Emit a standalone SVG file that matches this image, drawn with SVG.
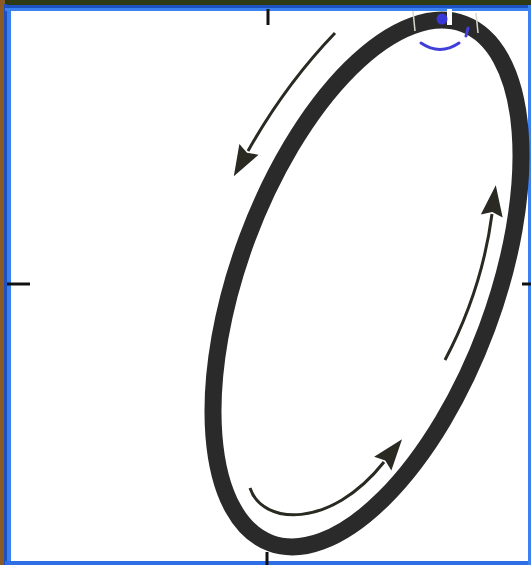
<svg xmlns="http://www.w3.org/2000/svg" width="531" height="565" viewBox="0 0 531 565">
<style>
.tick{stroke:#111;stroke-width:3;fill:none}
.arr{stroke:#2a2a22;stroke-width:3;fill:none;marker-end:url(#head)}
.blue{stroke:#4040d8;stroke-width:3;fill:none;stroke-linecap:round}
.sep{stroke:#d8d8cc;stroke-width:1.5}
</style>
<defs>
<marker id="head" markerUnits="userSpaceOnUse" markerWidth="34" markerHeight="26" viewBox="-2 -13 34 26" refX="2" refY="0" orient="auto">
<path d="M0,-11 L31,0 L0,11 L4,0 Z" fill="#2a2a22"/>
</marker>
</defs>
<rect x="0" y="0" width="531" height="565" fill="#ffffff"/>
<g id="frame">
<rect x="0" y="0" width="531" height="5" fill="#2e3a14"/>
<rect x="0" y="0" width="5" height="565" fill="#8b5a26"/>
<rect x="4" y="4" width="3" height="561" fill="#1e50c0"/>
<rect x="7" y="5" width="4" height="560" fill="#3a82f0"/>
<rect x="5" y="5" width="526" height="3" fill="#1e50c0"/>
<rect x="5" y="8" width="526" height="3" fill="#3a82f0"/>
<rect x="5" y="561" width="526" height="4" fill="#2f6fe6"/>
<rect x="528" y="5" width="3" height="560" fill="#3a82f0"/>
</g>
<g id="ticks">
<line class="tick" x1="268" y1="9" x2="268" y2="25"/>
<line class="tick" x1="7" y1="284" x2="30" y2="284"/>
<line class="tick" x1="522" y1="284" x2="531" y2="284"/>
<line class="tick" x1="267" y1="552" x2="267" y2="565"/>
</g>
<g id="ring">
<ellipse cx="367" cy="283.5" rx="128" ry="277" transform="rotate(20.4 367 283.5)" fill="none" stroke="#2b2a2a" stroke-width="17"/>
<line class="sep" x1="413" y1="11" x2="415" y2="31"/>
<line class="sep" x1="476" y1="13" x2="478" y2="33"/>
<rect x="447" y="9" width="5" height="16" fill="#ffffff"/>
</g>
<g id="marks">
<circle cx="442" cy="19" r="5.5" fill="#3838d8"/>
<path class="blue" d="M421,43 Q440,56 459,43"/>
<line class="blue" x1="468" y1="28" x2="466" y2="36"/>
</g>
<g id="connectors">
<path class="arr" d="M335,33 Q285,85 248,151"/>
<path class="arr" d="M445,360 Q482,290 492,214"/>
<path class="arr" d="M250,488 C262,525 330,530 384,462"/>
</g>
</svg>
